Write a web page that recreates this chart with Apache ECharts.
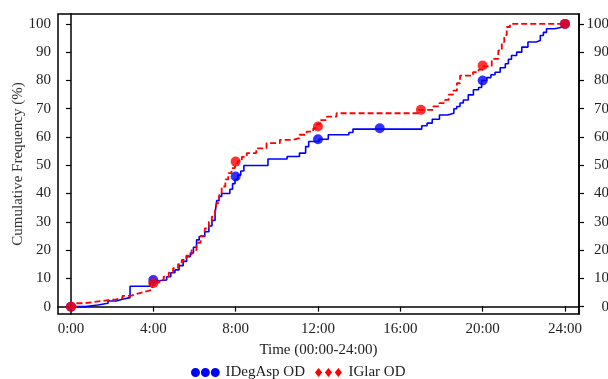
<!DOCTYPE html>
<html>
<head>
<meta charset="utf-8">
<script src="https://cdn.jsdelivr.net/npm/echarts@6/dist/echarts.min.js"></script>
<style>html,body{margin:0;padding:0;background:#fff}#c{width:608px;height:379px}</style>
</head>
<body>
<div id="c"></div>
<script>
// Time (hours) at which each step occurs, and the cumulative frequency (%) after the step
const blueTimes = [0, 0.7, 1.3, 1.8, 2.2, 2.5, 2.87, 3.84, 4.0, 4.65, 4.85, 5.05, 5.25, 5.45, 5.62, 5.8, 5.95, 6.1, 6.23, 6.5, 6.7, 6.85, 7.0, 7.08, 7.2, 7.32, 7.72, 7.85, 7.97, 8.1, 8.25, 8.4, 9.57, 10.5, 11.1, 11.4, 11.55, 12.05, 12.5, 13.5, 13.7, 17.04, 17.3, 17.55, 17.9, 18.3, 18.6, 18.74, 18.9, 19.06, 19.3, 19.55, 19.8, 19.95, 20.2, 20.4, 20.6, 20.85, 21.1, 21.25, 21.4, 21.65, 21.9, 22.2, 22.6, 22.8, 22.95, 23.1, 23.5, 23.9, 24];
const blueValues = [0, 0.6, 1.2, 2.0, 2.6, 3.2, 7.2, 9.0, 9.4, 10.6, 12.0, 13.0, 14.5, 16.0, 17.7, 19.0, 21.0, 23.6, 24.8, 26.5, 28.5, 30.5, 33.0, 37.5, 39.0, 40.0, 41.5, 43.5, 45.0, 46.5, 48.0, 49.9, 52.2, 53.1, 54.3, 56.6, 58.4, 59.2, 60.8, 61.6, 62.8, 64.0, 64.9, 66.3, 67.8, 68.4, 70.0, 70.8, 72.0, 73.1, 74.9, 76.7, 77.5, 80.0, 81.0, 82.0, 82.9, 84.5, 85.9, 87.5, 88.8, 90.0, 91.8, 93.6, 94.1, 95.9, 97.0, 98.3, 98.9, 100, 100];
const redTimes = [0, 0.28, 0.6, 1.08, 1.5, 1.9, 2.2, 2.5, 2.9, 3.2, 3.5, 3.76, 3.95, 4.05, 4.3, 4.5, 4.75, 4.96, 5.2, 5.38, 5.6, 5.86, 6.1, 6.3, 6.5, 6.7, 6.84, 7.0, 7.08, 7.2, 7.32, 7.5, 7.64, 7.8, 7.97, 8.1, 8.3, 8.54, 9.0, 9.5, 10.15, 10.79, 11.1, 11.45, 11.77, 11.95, 12.1, 12.43, 12.9, 16.9, 17.6, 17.9, 18.17, 18.35, 18.56, 18.75, 18.9, 19.53, 19.8, 20.03, 20.44, 20.76, 20.93, 21.05, 21.17, 21.33, 24];
const redValues = [0, 1.2, 1.6, 2.0, 2.4, 2.6, 3.0, 3.8, 4.5, 5.1, 5.6, 6.0, 7.5, 8.5, 9.5, 10.6, 12.0, 13.6, 15.0, 16.5, 18.0, 20.0, 22.6, 25.0, 27.7, 30.0, 31.8, 34.0, 36.6, 39.5, 42.5, 45.0, 47.2, 49.0, 50.7, 51.5, 53.0, 54.3, 56.0, 57.8, 59.0, 59.6, 60.8, 61.9, 63.1, 64.5, 66.0, 67.2, 68.4, 69.6, 70.8, 72.0, 73.1, 75.0, 76.4, 79.0, 81.7, 82.9, 83.8, 85.0, 87.6, 90.6, 93.6, 96.0, 98.9, 100, 100];
// highlighted marker points
const blueMarkTimes = [0, 4, 8, 12, 15, 20, 24];
const blueMarkValues = [0, 9.4, 46.0, 59.2, 63.1, 80.0, 100];
const redMarkTimes = [0, 4, 8, 12, 17, 20, 24];
const redMarkValues = [0, 8.3, 51.3, 63.7, 69.6, 85.3, 100];
const xTicks = [0, 4, 8, 12, 16, 20, 24];
const yTicks = [0, 10, 20, 30, 40, 50, 60, 70, 80, 90, 100];
const seriesNames = ['IDegAsp OD', 'IGlar OD'];

const zip = (a, b) => a.map((v, i) => [v, b[i]]);
const FONT = 'Liberation Serif';
const txt = { fontFamily: FONT, fontSize: 15, color: '#222' };
const axisLine = { show: true, lineStyle: { color: '#000', width: 1.5 } };

const yAxisBase = {
  type: 'value', min: -2.6, max: 103.5,
  axisLine: axisLine,
  axisTick: { show: true, length: 5, customValues: yTicks, lineStyle: { color: '#000', width: 1.2 } },
  splitLine: { show: false }
};

const chart = echarts.init(document.getElementById('c'), null, { renderer: 'canvas' });
chart.setOption({
  backgroundColor: '#fff',
  animation: false,
  grid: { left: 58, right: 29, top: 14, bottom: 65, show: true, borderColor: '#000', borderWidth: 1.5, containLabel: false, outerBoundsMode: 'none' },
  xAxis: {
    type: 'value', min: -0.63, max: 24.68,
    name: 'Time (00:00-24:00)', nameLocation: 'middle', nameGap: 29,
    nameTextStyle: Object.assign({}, txt),
    axisLine: axisLine,
    axisTick: { show: true, length: 5, customValues: xTicks, lineStyle: { color: '#000', width: 1.2 } },
    axisLabel: Object.assign({ customValues: xTicks, margin: 8, formatter: v => Math.round(v) + ':00' }, txt),
    splitLine: { show: false }
  },
  yAxis: [
    Object.assign({}, yAxisBase, {
      position: 'left',
      name: 'Cumulative Frequency (%)', nameLocation: 'middle', nameGap: 40, nameRotate: 90,
      nameMoveOverlap: false,
      nameTextStyle: Object.assign({}, txt, { color: '#333', verticalAlign: 'middle' }),
      axisLabel: Object.assign({ customValues: yTicks, margin: 7 }, txt)
    }),
    Object.assign({}, yAxisBase, {
      position: 'right',
      axisLabel: Object.assign({ customValues: yTicks, margin: 30, align: 'right' }, txt)
    })
  ],
  legend: {
    left: 186, top: 360, itemGap: 10, itemWidth: 30, itemHeight: 9,
    textStyle: Object.assign({}, txt, { color: '#222' }),
    data: [
      { name: seriesNames[0], icon: 'path://M0,5a5,5 0 1,0 10,0a5,5 0 1,0 -10,0M11,5a5,5 0 1,0 10,0a5,5 0 1,0 -10,0M22,5a5,5 0 1,0 10,0a5,5 0 1,0 -10,0' },
      { name: seriesNames[1], icon: 'path://M4,0L8,5L4,10L0,5ZM15,0L19,5L15,10L11,5ZM26,0L30,5L26,10L22,5Z' }
    ]
  },
  series: [
    {
      name: seriesNames[0], type: 'line', step: 'end', yAxisIndex: 0,
      data: zip(blueTimes, blueValues), showSymbol: false, symbol: 'none',
      itemStyle: { color: '#0000FF' },
      lineStyle: { color: '#0000FF', width: 1.6 }, z: 2
    },
    {
      name: seriesNames[1], type: 'line', step: 'end', yAxisIndex: 0,
      data: zip(redTimes, redValues), showSymbol: false, symbol: 'none',
      itemStyle: { color: '#FF0000' },
      lineStyle: { color: '#FF0000', width: 1.8, type: [6, 3] }, z: 3
    },
    {
      name: 'blueMarks', type: 'scatter', yAxisIndex: 0,
      data: zip(blueMarkTimes, blueMarkValues), symbol: 'circle', symbolSize: 10,
      itemStyle: { color: '#0000FF' }, z: 4
    },
    {
      name: 'redMarks', type: 'scatter', yAxisIndex: 0,
      data: zip(redMarkTimes, redMarkValues), symbol: 'circle', symbolSize: 10,
      itemStyle: { color: '#FF0000' }, z: 5
    }
  ]
});
</script>
</body>
</html>
